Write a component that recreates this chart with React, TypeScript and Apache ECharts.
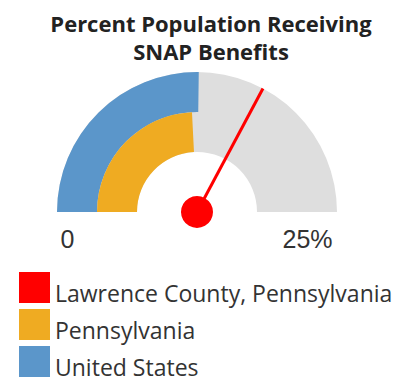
import React, { useEffect, useRef } from "react";
import * as echarts from "echarts";

const titleLines = ["Percent Population Receiving", "SNAP Benefits"];
const seriesNames = ["Lawrence County, Pennsylvania", "Pennsylvania", "United States"];
const seriesValues = [16.4, 12.1, 12.6];
const seriesColors = ["#ff0000", "#efab22", "#5b96ca"];
const axisMin = 0;
const axisMax = 25;
const tickLabels = ["0", "25%"];

export default function App() {
  const ref = useRef<HTMLDivElement>(null);
  useEffect(() => {
    if (!ref.current) return;
    const chart = echarts.init(ref.current, null, { renderer: "svg" });
    const cx = 197;
    const cy = 212;
    const common = {
      type: "gauge",
      center: [cx, cy],
      startAngle: 180,
      endAngle: 0,
      min: axisMin,
      max: axisMax,
      splitLine: { show: false },
      axisTick: { show: false },
      axisLabel: { show: false },
      title: { show: false },
      detail: { show: false },
      silent: true,
    };
    const tickStyle = {
      font: "25px 'Liberation Sans', Arial, sans-serif",
      fill: "#333333",
      align: "center",
      verticalAlign: "middle",
    };
    chart.setOption({
      animation: false,
      title: {
        text: titleLines.join("\n"),
        left: 206,
        textAlign: "center",
        top: 4,
        textStyle: {
          fontFamily: "Open Sans",
          fontWeight: "bold",
          fontSize: 22,
          lineHeight: 28,
          color: "#222222",
        },
      },
      legend: {
        orient: "vertical",
        left: 19,
        top: 271,
        height: 140,
        padding: 0,
        itemWidth: 31,
        itemHeight: 31,
        itemGap: 4,
        icon: "rect",
        selectedMode: false,
        formatter: (name: string) => "{t|" + name + "}",
        data: seriesNames.map((n, i) => ({ name: n, itemStyle: { color: seriesColors[i] } })),
        textStyle: {
          fontFamily: "Open Sans",
          fontSize: 23,
          color: "#333333",
          rich: {
            t: {
              fontFamily: "Open Sans",
              fontSize: 23,
              lineHeight: 23,
              color: "#333333",
              padding: [10, 0, 0, 0],
            },
          },
        },
      },
      graphic: [
        { type: "text", x: 67.5, y: 239, style: { ...tickStyle, text: tickLabels[0] } },
        { type: "text", x: 307.5, y: 239, style: { ...tickStyle, text: tickLabels[1] } },
      ],
      series: [
        {
          ...common,
          name: seriesNames[2],
          radius: 140,
          axisLine: { show: true, lineStyle: { width: 80, color: [[1, "#dedede"]] } },
          progress: { show: true, width: 40, roundCap: false, itemStyle: { color: seriesColors[2] } },
          pointer: { show: false },
          itemStyle: { color: seriesColors[2] },
          data: [{ name: seriesNames[2], value: seriesValues[2] }],
        },
        {
          ...common,
          name: seriesNames[1],
          radius: 100,
          axisLine: { show: false },
          progress: { show: true, width: 40, roundCap: false, itemStyle: { color: seriesColors[1] } },
          pointer: { show: false },
          itemStyle: { color: seriesColors[1] },
          data: [{ name: seriesNames[1], value: seriesValues[1] }],
        },
        {
          ...common,
          name: seriesNames[0],
          radius: 140,
          axisLine: { show: false },
          progress: { show: false },
          pointer: { show: true, icon: "rect", length: 140, width: 3, itemStyle: { color: seriesColors[0] } },
          anchor: { show: true, showAbove: true, size: 32, itemStyle: { color: seriesColors[0] } },
          itemStyle: { color: seriesColors[0] },
          data: [{ name: seriesNames[0], value: seriesValues[0] }],
        },
      ],
    });
    return () => chart.dispose();
  }, []);
  return (
    <div
      ref={ref}
      style={{ position: "fixed", left: 0, top: 0, width: 409, height: 379, background: "#ffffff" }}
    />
  );
}
